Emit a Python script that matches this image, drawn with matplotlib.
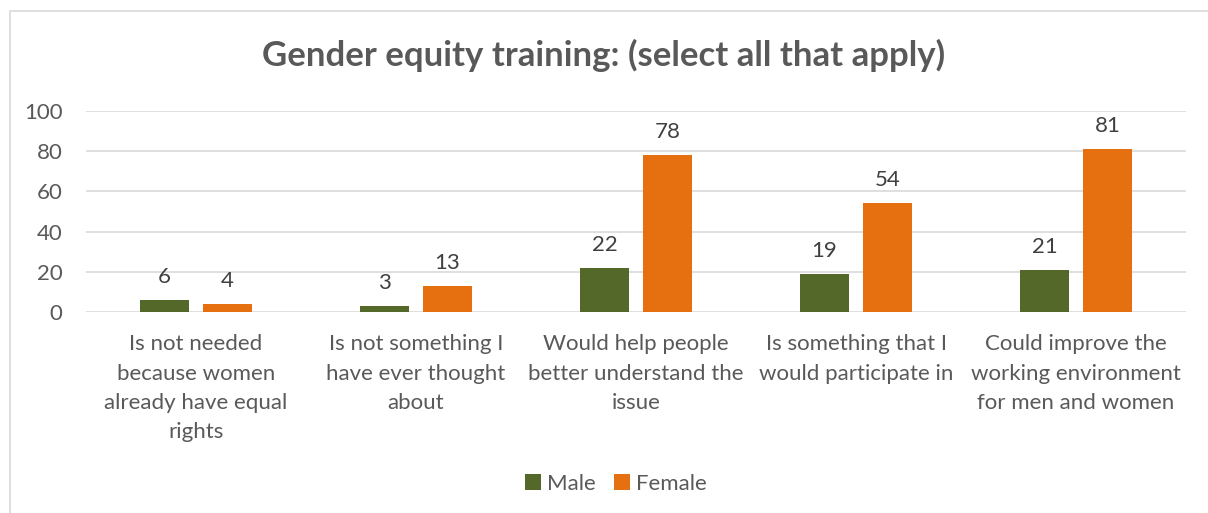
import numpy as np
import matplotlib.pyplot as plt
from matplotlib.patches import Rectangle

categories = [
    "Is not needed\nbecause women\nalready have equal\nrights",
    "Is not something I\nhave ever thought\nabout",
    "Would help people\nbetter understand the\nissue",
    "Is something that I\nwould participate in",
    "Could improve the\nworking environment\nfor men and women",
]
male = [6, 3, 22, 19, 21]
female = [4, 13, 78, 54, 81]
yticks = [0, 20, 40, 60, 80, 100]

plt.rcParams["font.family"] = ["Lato", "DejaVu Sans"]
text_color = "#595959"
male_color = "#54682a"
female_color = "#e6700f"

fig = plt.figure(figsize=(12.08, 5.13), dpi=100)
ax = fig.add_axes([0.0712, 0.3918, 0.9106, 0.3918])

# outer chart border (top and left visible only)
fig.patches.append(Rectangle((10 / 1208, -0.1), 1.2, 1 - 11 / 513 + 0.1,
                             transform=fig.transFigure, fill=False,
                             edgecolor="#d9d9d9", linewidth=1.2))

x = np.arange(len(categories))
w = 0.223
off = 0.143
b1 = ax.bar(x - off, male, w, color=male_color, label="Male", zorder=3)
b2 = ax.bar(x + off, female, w, color=female_color, label="Female", zorder=3)

for bars, vals in [(b1, male), (b2, female)]:
    for rect, v in zip(bars, vals):
        ax.text(rect.get_x() + rect.get_width() / 2, v + 6.5, str(v),
                ha="center", va="bottom", fontsize=16, color="#404040")

ax.set_xlim(-0.5, len(categories) - 0.5)
ax.set_ylim(0, 100)
ax.set_yticks(yticks)
ax.set_xticks(x)
ax.set_xticklabels(categories, fontsize=16, color=text_color, linespacing=1.58,
                   va="top")
ax.tick_params(axis="y", labelsize=16, labelcolor=text_color, length=0, pad=17)
ax.tick_params(axis="x", length=0, pad=16)
ax.grid(axis="y", color="#d9d9d9", linewidth=1.2, zorder=0)
for s in ax.spines.values():
    s.set_visible(False)

fig.suptitle("Gender equity training: (select all that apply)", x=0.5, y=0.925,
             fontsize=25, fontweight="bold", color=text_color)

fig.legend(loc="center", bbox_to_anchor=(0.51, 0.057), ncol=2, frameon=False,
           fontsize=16, handlelength=0.7, handleheight=0.7, handletextpad=0.3,
           columnspacing=0.8, labelcolor=text_color)

fig.savefig("out.png", dpi=100)
